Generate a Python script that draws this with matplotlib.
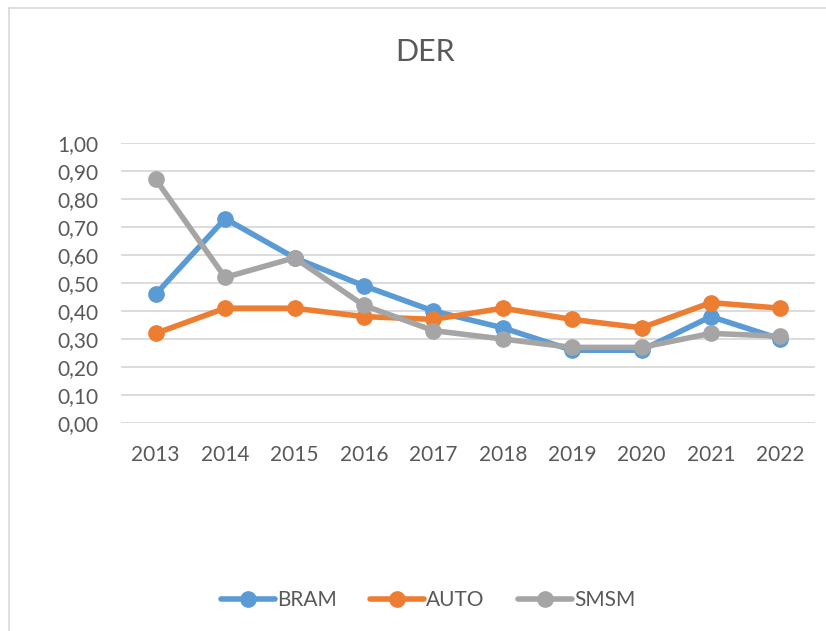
import matplotlib
matplotlib.use("Agg")
import matplotlib.pyplot as plt
from matplotlib.lines import Line2D

years = ["2013", "2014", "2015", "2016", "2017", "2018", "2019", "2020", "2021", "2022"]
bram = [0.46, 0.73, 0.59, 0.49, 0.40, 0.34, 0.26, 0.26, 0.38, 0.30]
auto = [0.32, 0.41, 0.41, 0.38, 0.37, 0.41, 0.37, 0.34, 0.43, 0.41]
smsm = [0.87, 0.52, 0.59, 0.42, 0.33, 0.30, 0.27, 0.27, 0.32, 0.31]
series_names = ["BRAM", "AUTO", "SMSM"]
yticks = [0.0, 0.1, 0.2, 0.3, 0.4, 0.5, 0.6, 0.7, 0.8, 0.9, 1.0]

colors = ["#5B9BD5", "#ED7D31", "#A5A5A5"]
txt = "#595959"
plt.rcParams['font.family'] = ['Lato', 'DejaVu Sans']

W, H = 826, 631
fig = plt.figure(figsize=(W / 100, H / 100), dpi=100)
ax = fig.add_axes([121 / W, 1 - 423 / H, (815 - 121) / W, (423 - 143) / H])

x = list(range(len(years)))
for vals, c, name in zip([bram, auto, smsm], colors, series_names):
    ax.plot(x, vals, color=c, lw=4, marker='o', ms=11, label=name,
            solid_joinstyle='round', solid_capstyle='round')

ax.set_xlim(-0.5, len(years) - 0.5)
ax.set_ylim(0, 1.0)
ax.set_yticks(yticks)
ax.set_yticklabels([f"{v:.2f}".replace('.', ',') for v in yticks])
ax.set_xticks(x)
ax.set_xticklabels(years)
ax.tick_params(axis='both', length=0, labelsize=15, colors=txt)
ax.tick_params(axis='y', pad=16)
ax.tick_params(axis='x', pad=16)
ax.grid(axis='y', color='#D9D9D9', lw=1.3)
ax.set_axisbelow(True)
for s in ax.spines.values():
    s.set_visible(False)
ax.set_clip_on(False)
for ln in ax.lines:
    ln.set_clip_on(False)

fig.text(425 / W, 1 - 52 / H, "DER", ha='center', va='center', fontsize=22, color=txt)

handles = [Line2D([0], [0], color=c, lw=4, marker='o', ms=11, solid_capstyle='round')
           for c in colors]
fig.legend(handles, series_names, loc='center', bbox_to_anchor=(428 / W, 1 - 600 / H),
           ncol=3, frameon=False, fontsize=15, labelcolor=txt, handlelength=2.6,
           handletextpad=0.1, columnspacing=1.6)

# chart area border (left and top visible)
fig.add_artist(Line2D([9 / W, 9 / W], [0, 1 - 8 / H], color='#D9D9D9', lw=1.2))
fig.add_artist(Line2D([9 / W, 1], [1 - 8 / H, 1 - 8 / H], color='#D9D9D9', lw=1.2))

fig.savefig("out.png", dpi=100)
